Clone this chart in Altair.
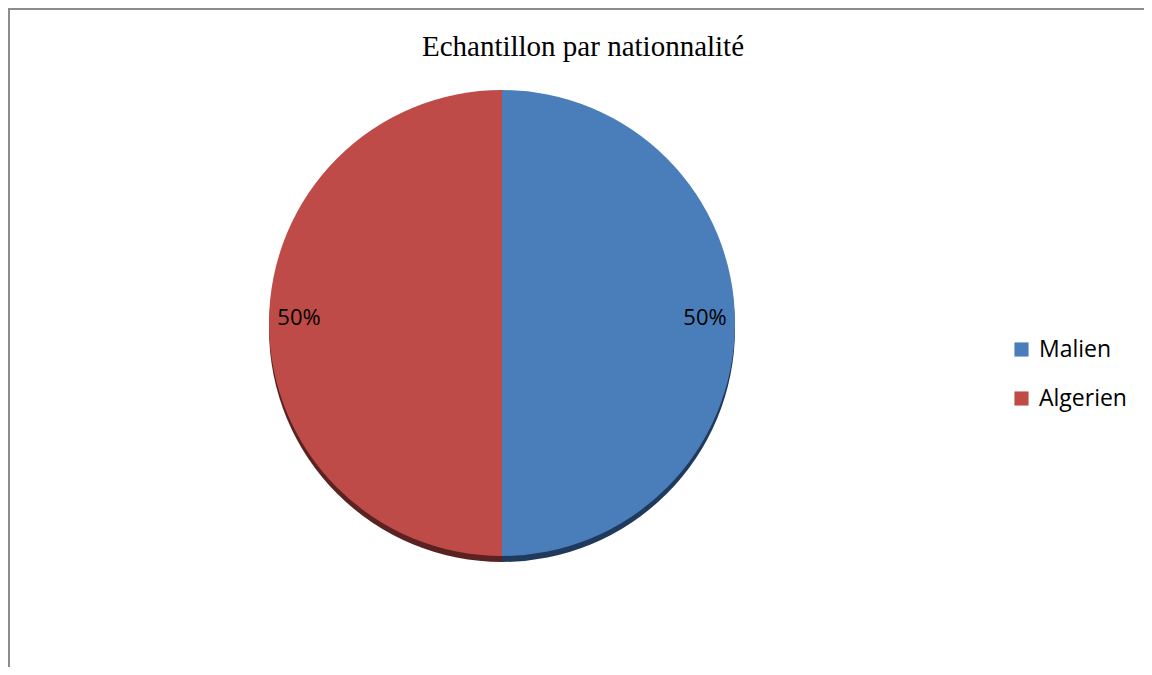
import altair as alt
import pandas as pd

categories = ["Malien", "Algerien"]
values = [50, 50]
labels = ["50%", "50%"]
colors = ["#4A7EBB", "#BE4B48"]
shadow_colors = ["#1F3A5C", "#5A2322"]

df = pd.DataFrame({"cat": categories, "val": values, "label": labels,
                   "shadow": shadow_colors, "order": [0, 1]})

CX, CY, R = 494, 315, 233
W, H = 1136, 659

color_scale = alt.Scale(domain=categories, range=colors)

shadow = alt.Chart(df).mark_arc(radius=R).encode(
    theta=alt.Theta("val:Q", stack=True),
    order=alt.Order("order:Q"),
    color=alt.Color("shadow:N", scale=None),
    x=alt.value(CX), y=alt.value(CY + 6),
)

pie = alt.Chart(df).mark_arc(radius=R).encode(
    theta=alt.Theta("val:Q", stack=True),
    order=alt.Order("order:Q"),
    color=alt.Color("cat:N", scale=color_scale, sort=categories,
                    legend=alt.Legend(title=None, orient="none", legendX=1002, legendY=330,
                                      symbolType="square", symbolSize=200,
                                      symbolStrokeWidth=0, labelFont="Open Sans",
                                      labelFontSize=23, labelColor="#000",
                                      rowPadding=25, labelOffset=6)),
    x=alt.value(CX), y=alt.value(CY),
)

text = alt.Chart(df).mark_text(radius=203, font="Open Sans", fontSize=22,
                               color="#000", align="center", baseline="middle").encode(
    theta=alt.Theta("val:Q", stack=True),
    order=alt.Order("order:Q"),
    text="label:N",
    x=alt.value(CX), y=alt.value(CY - 5),
)

title = alt.Chart(pd.DataFrame({"t": ["Echantillon par nationnalité"]})).mark_text(
    font="Liberation Serif", fontSize=29, color="#000", align="center", baseline="middle"
).encode(text="t:N", x=alt.value(575), y=alt.value(39))

top_border = alt.Chart(df.head(1)).mark_rule(color="#8c8c8c", strokeWidth=2).encode(
    x=alt.value(0), x2=alt.value(W), y=alt.value(1)
)
left_border = alt.Chart(df.head(1)).mark_rule(color="#8c8c8c", strokeWidth=2).encode(
    x=alt.value(1), y=alt.value(0), y2=alt.value(H)
)

chart = alt.layer(shadow, pie, text, title, top_border, left_border).properties(
    width=W, height=H, padding=0, autosize=alt.AutoSizeParams(type="none")
).configure_view(stroke=None)

chart.save("out.html", embed_options={"renderer": "svg", "actions": False})
